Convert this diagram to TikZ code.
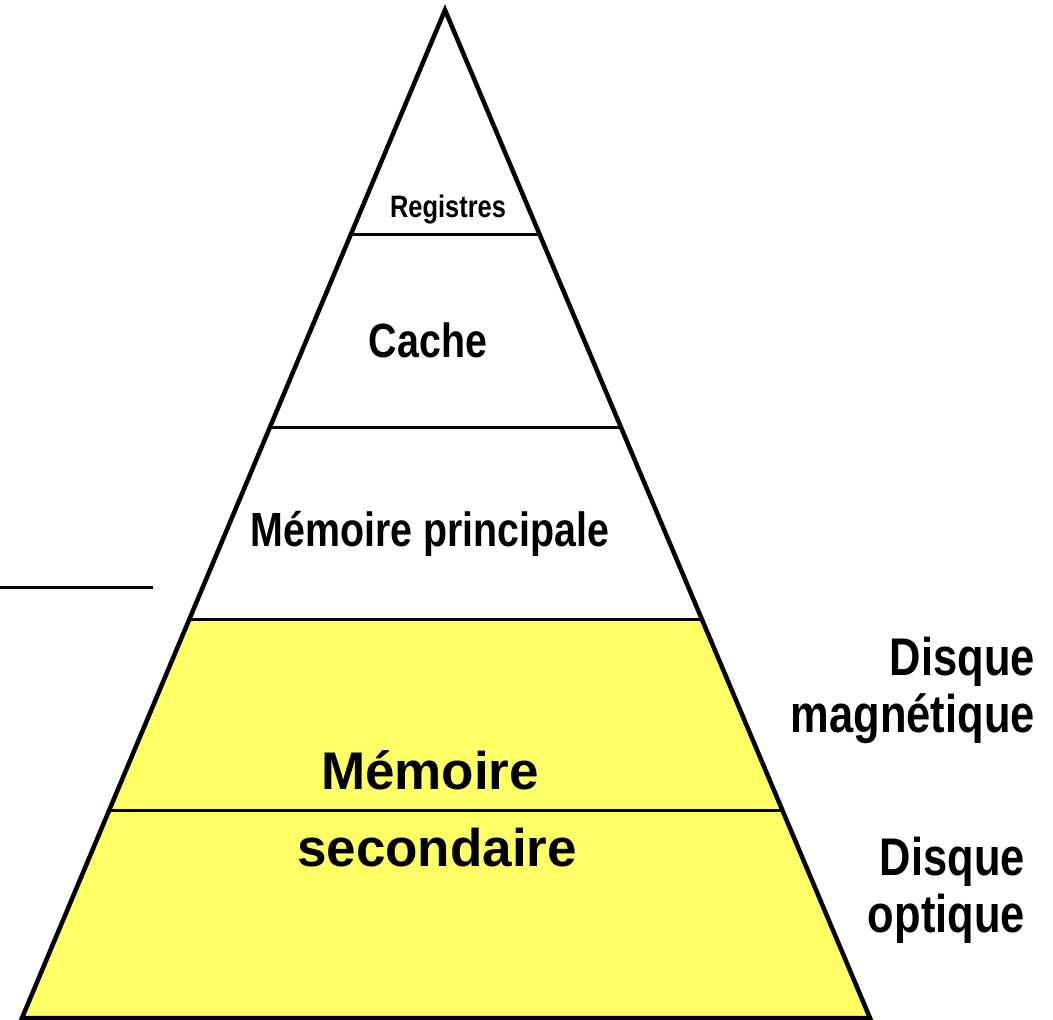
\documentclass[tikz,border=0pt]{standalone}
\usepackage{fontspec}
\setmainfont{Liberation Sans}
\newfontfamily\narrowfont[FakeStretch=0.82]{Liberation Sans}
\usetikzlibrary{calc}
\definecolor{pyryellow}{HTML}{FFFF66}

\begin{document}
\begin{tikzpicture}[x=1pt,y=-1pt,
        narrowlbl/.style={inner sep=0pt,font=\narrowfont\bfseries\fontsize{48}{52}\selectfont},
        smalllbl/.style={inner sep=0pt,font=\narrowfont\bfseries\fontsize{31}{34}\selectfont},
        widelbl/.style={inner sep=0pt,font=\bfseries\fontsize{53}{56}\selectfont},
        sidelbl/.style={inner sep=0pt,align=right,anchor=east,font=\narrowfont\bfseries\fontsize{53}{57}\selectfont},
        level/.style={line width=3pt}]
    \useasboundingbox (0,0) rectangle (1053,1020);
    \coordinate (top) at (445,10);
    \coordinate (bl) at (22,1018);
    \coordinate (br) at (870,1018);
    \coordinate (l1) at ($(top)!0.2232!(bl)$);
    \coordinate (r1) at ($(top)!0.2232!(br)$);
    \coordinate (l2) at ($(top)!0.4137!(bl)$);
    \coordinate (r2) at ($(top)!0.4137!(br)$);
    \coordinate (l3) at ($(top)!0.6042!(bl)$);
    \coordinate (r3) at ($(top)!0.6042!(br)$);
    \coordinate (l4) at ($(top)!0.7946!(bl)$);
    \coordinate (r4) at ($(top)!0.7946!(br)$);
    % bas de la pyramide
    \fill[pyryellow] (l3) -- (r3) -- (br) -- (bl) -- cycle;
    \draw[level] (l1) -- (r1);
    \draw[level] (l2) -- (r2);
    \draw[level] (l3) -- (r3);
    \draw[level] (l4) -- (r4);
    \draw[line width=4.5pt,line join=miter] (top) -- (br) -- (bl) -- cycle;
    % trait isole a gauche
    \coordinate (s1) at (0,587);
    \coordinate (s2) at (153,587);
    \draw[level] (s1) -- (s2);
    % etiquettes
    \node[smalllbl] (reg) at (448,210) {Registres};
    \node[narrowlbl] (cache) at (428,340) {Cache};
    \node[narrowlbl] (mp) at (430,534) {Mémoire principale};
    \node[widelbl] (ms1) at (430,770) {Mémoire};
    \node[widelbl] (ms2) at (437,848) {secondaire};
    \node[sidelbl] (dm) at (1035,690) {Disque\\magnétique};
    \node[sidelbl] (dop) at (1025,890) {Disque\\optique};
\end{tikzpicture}
\end{document}
